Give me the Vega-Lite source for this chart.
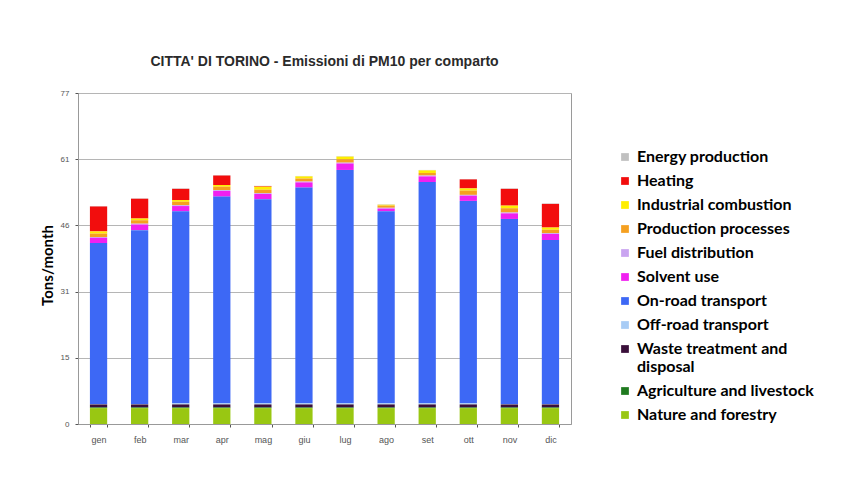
{
  "$schema": "https://vega.github.io/schema/vega-lite/v6.json",
  "autosize": "none",
  "width": 493,
  "height": 331,
  "padding": {"left": 78, "top": 93, "right": 282, "bottom": 58},
  "background": "white",
  "title": {
    "text": "CITTA' DI TORINO - Emissioni di PM10 per comparto",
    "font": "Liberation Sans",
    "fontSize": 14,
    "fontWeight": "bold",
    "color": "#2a2a2a",
    "anchor": "middle",
    "offset": 20
  },
  "datasets": {
    "sectors": [
      {"cat": "Energy production", "snap": 1},
      {"cat": "Heating", "snap": 2},
      {"cat": "Industrial combustion", "snap": 3},
      {"cat": "Production processes", "snap": 4},
      {"cat": "Fuel distribution", "snap": 5},
      {"cat": "Solvent use", "snap": 6},
      {"cat": "On-road transport", "snap": 7},
      {"cat": "Off-road transport", "snap": 8},
      {"cat": "Waste treatment and disposal", "snap": 9},
      {"cat": "Agriculture and livestock", "snap": 10},
      {"cat": "Nature and forestry", "snap": 11}
    ],
    "months": [
      {"m": "gen", "Energy production": 0.1, "Heating": 5.8, "Industrial combustion": 0.5, "Production processes": 0.8, "Fuel distribution": 0.2, "Solvent use": 1.2, "On-road transport": 37.45, "Off-road transport": 0.1, "Waste treatment and disposal": 0.7, "Agriculture and livestock": 0.15, "Nature and forestry": 3.7},
      {"m": "feb", "Energy production": 0.1, "Heating": 4.6, "Industrial combustion": 0.4, "Production processes": 0.8, "Fuel distribution": 0.2, "Solvent use": 1.3, "On-road transport": 40.45, "Off-road transport": 0.1, "Waste treatment and disposal": 0.7, "Agriculture and livestock": 0.15, "Nature and forestry": 3.7},
      {"m": "mar", "Energy production": 0.1, "Heating": 2.6, "Industrial combustion": 0.4, "Production processes": 0.8, "Fuel distribution": 0.2, "Solvent use": 1.2, "On-road transport": 44.65, "Off-road transport": 0.3, "Waste treatment and disposal": 0.7, "Agriculture and livestock": 0.15, "Nature and forestry": 3.7},
      {"m": "apr", "Energy production": 0.1, "Heating": 2.2, "Industrial combustion": 0.4, "Production processes": 0.8, "Fuel distribution": 0.2, "Solvent use": 1.3, "On-road transport": 48.05, "Off-road transport": 0.3, "Waste treatment and disposal": 0.7, "Agriculture and livestock": 0.15, "Nature and forestry": 3.7},
      {"m": "mag", "Energy production": 0.05, "Heating": 0.15, "Industrial combustion": 0.7, "Production processes": 0.8, "Fuel distribution": 0.2, "Solvent use": 1.2, "On-road transport": 47.45, "Off-road transport": 0.3, "Waste treatment and disposal": 0.7, "Agriculture and livestock": 0.15, "Nature and forestry": 3.7},
      {"m": "giu", "Energy production": 0.1, "Heating": 0, "Industrial combustion": 0.5, "Production processes": 0.7, "Fuel distribution": 0.2, "Solvent use": 1.2, "On-road transport": 50.15, "Off-road transport": 0.3, "Waste treatment and disposal": 0.7, "Agriculture and livestock": 0.15, "Nature and forestry": 3.7},
      {"m": "lug", "Energy production": 0.1, "Heating": 0, "Industrial combustion": 0.6, "Production processes": 0.8, "Fuel distribution": 0.2, "Solvent use": 1.5, "On-road transport": 54.25, "Off-road transport": 0.3, "Waste treatment and disposal": 0.7, "Agriculture and livestock": 0.15, "Nature and forestry": 3.7},
      {"m": "ago", "Energy production": 0.1, "Heating": 0, "Industrial combustion": 0.2, "Production processes": 0.5, "Fuel distribution": 0.2, "Solvent use": 0.6, "On-road transport": 44.65, "Off-road transport": 0.3, "Waste treatment and disposal": 0.7, "Agriculture and livestock": 0.15, "Nature and forestry": 3.7},
      {"m": "set", "Energy production": 0.1, "Heating": 0, "Industrial combustion": 0.6, "Production processes": 0.6, "Fuel distribution": 0.2, "Solvent use": 1.3, "On-road transport": 51.45, "Off-road transport": 0.3, "Waste treatment and disposal": 0.7, "Agriculture and livestock": 0.15, "Nature and forestry": 3.7},
      {"m": "ott", "Energy production": 0.1, "Heating": 2.1, "Industrial combustion": 0.5, "Production processes": 1.0, "Fuel distribution": 0.2, "Solvent use": 1.2, "On-road transport": 47.05, "Off-road transport": 0.3, "Waste treatment and disposal": 0.7, "Agriculture and livestock": 0.15, "Nature and forestry": 3.7},
      {"m": "nov", "Energy production": 0.1, "Heating": 3.9, "Industrial combustion": 0.6, "Production processes": 1.0, "Fuel distribution": 0.2, "Solvent use": 1.3, "On-road transport": 43.05, "Off-road transport": 0.1, "Waste treatment and disposal": 0.7, "Agriculture and livestock": 0.15, "Nature and forestry": 3.7},
      {"m": "dic", "Energy production": 0.1, "Heating": 5.5, "Industrial combustion": 0.5, "Production processes": 0.8, "Fuel distribution": 0.2, "Solvent use": 1.4, "On-road transport": 38.15, "Off-road transport": 0.1, "Waste treatment and disposal": 0.7, "Agriculture and livestock": 0.15, "Nature and forestry": 3.7}
    ]
  },
  "data": {"name": "months"},
  "transform": [
    {"fold": ["Energy production", "Heating", "Industrial combustion", "Production processes", "Fuel distribution", "Solvent use", "On-road transport", "Off-road transport", "Waste treatment and disposal", "Agriculture and livestock", "Nature and forestry"], "as": ["cat", "v"]},
    {"lookup": "cat", "from": {"data": {"name": "sectors"}, "key": "cat", "fields": ["snap"]}}
  ],
  "mark": {"type": "bar"},
  "encoding": {
    "x": {
      "field": "m",
      "type": "nominal",
      "sort": ["gen", "feb", "mar", "apr", "mag", "giu", "lug", "ago", "set", "ott", "nov", "dic"],
      "scale": {"paddingInner": 0.58, "paddingOuter": 0.29},
      "axis": {
        "title": null,
        "labelAngle": 0,
        "labelFont": "Liberation Sans",
        "labelFontSize": 9,
        "labelColor": "#555555",
        "labelPadding": 8,
        "domainColor": "#999999",
        "tickColor": "#555555",
        "tickSize": 3,
        "tickBand": "extent",
        "grid": false
      }
    },
    "y": {
      "field": "v",
      "type": "quantitative",
      "stack": "zero",
      "scale": {"domain": [0, 77], "nice": false, "zero": true},
      "axis": {
        "title": "Tons/month",
        "titleFont": "Lato",
        "titleFontSize": 15,
        "titleFontWeight": "bold",
        "titleColor": "#000000",
        "titleAngle": 270,
        "titleAlign": "center",
        "titleBaseline": "middle",
        "titleX": -31,
        "titleY": 172,
        "values": [0, 15.4, 30.8, 46.2, 61.6, 77],
        "labelExpr": "floor(datum.value + 0.3)",
        "labelFont": "Liberation Sans",
        "labelFontSize": 8,
        "labelColor": "#555555",
        "labelPadding": 6,
        "tickColor": "#555555",
        "tickSize": 3,
        "domainColor": "#999999",
        "gridColor": "#b5b5b5",
        "gridWidth": 1
      }
    },
    "color": {
      "field": "cat",
      "type": "nominal",
      "sort": ["Energy production", "Heating", "Industrial combustion", "Production processes", "Fuel distribution", "Solvent use", "On-road transport", "Off-road transport", "Waste treatment and disposal", "Agriculture and livestock", "Nature and forestry"],
      "scale": {
        "range": ["#c0c0c0", "#f20d0d", "#ffee00", "#f5a020", "#c9a4f0", "#f020f0", "#3d68f5", "#a8ccf5", "#3a0f3a", "#1f7a1f", "#99c712"]
      },
      "legend": {
        "title": null,
        "orient": "none",
        "legendX": 539,
        "legendY": 56,
        "symbolType": "square",
        "symbolSize": 60,
        "symbolStrokeWidth": 0,
        "labelFont": "Lato",
        "labelFontSize": 16,
        "labelFontWeight": "bold",
        "labelColor": "#000000",
        "labelLimit": 260,
        "rowPadding": 8,
        "labelOffset": 4,
        "labelExpr": "datum.label == 'Waste treatment and disposal' ? ['Waste treatment and', 'disposal'] : datum.label"
      }
    },
    "order": {"field": "snap", "type": "quantitative", "sort": "descending"}
  },
  "config": {
    "view": {"stroke": "#9a9a9a", "strokeWidth": 1}
  }
}
